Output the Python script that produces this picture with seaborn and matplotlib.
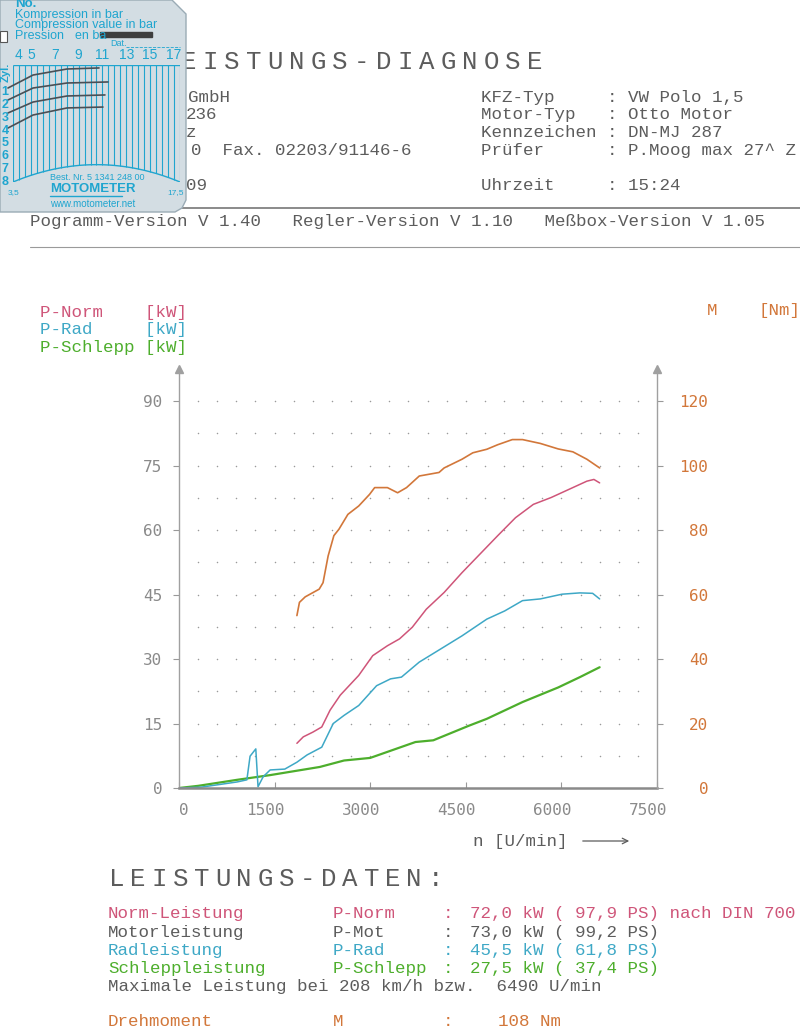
import numpy as np
import pandas as pd
import seaborn as sns
import matplotlib.pyplot as plt
from matplotlib.patches import Polygon, Rectangle
from matplotlib.transforms import ScaledTranslation

norm_rpm = [1850, 1950, 2100, 2240, 2370, 2530, 2820, 3040, 3270, 3460, 3660, 3880,
            4160, 4440, 4720, 5000, 5280, 5560, 5840, 6120, 6400, 6510, 6600]
norm_kw = [10.4, 11.9, 13.0, 14.2, 18.1, 21.6, 26.2, 30.8, 33.1, 34.7, 37.4, 41.6,
           45.5, 50.1, 54.4, 58.7, 62.9, 66.0, 67.6, 69.5, 71.4, 71.8, 71.0]

rad_rpm = [0, 350, 910, 1065, 1115, 1205, 1240, 1320, 1430, 1660, 1850, 2010, 2240,
           2420, 2590, 2820, 3100, 3320, 3490, 3770, 4100, 4440, 4830, 5110, 5390,
           5670, 6010, 6290, 6490, 6600]
rad_kw = [0, 0.2, 1.4, 1.9, 7.4, 9.1, 0.3, 2.6, 4.2, 4.4, 6.0, 7.7, 9.5,
          15.0, 16.9, 19.2, 23.8, 25.4, 25.8, 29.3, 32.3, 35.4, 39.3, 41.2, 43.6,
          44.0, 45.1, 45.4, 45.3, 44.0]

schlepp_rpm = [0, 300, 910, 1430, 2210, 2590, 3000, 3710, 3990, 4550, 4830, 5390,
               5950, 6290, 6600]
schlepp_kw = [0, 0.5, 1.9, 3.0, 4.9, 6.4, 7.0, 10.7, 11.1, 14.5, 16.1, 20.0,
              23.4, 25.8, 28.1]

m_rpm = [1850, 1890, 1980, 2200, 2260, 2340, 2430, 2510, 2650, 2820, 2990, 3070,
         3270, 3430, 3570, 3770, 4080, 4160, 4440, 4610, 4830, 5000, 5230, 5390,
         5670, 5950, 6180, 6400, 6600]
m_nm = [53.5, 57.6, 59.3, 61.7, 63.7, 72.0, 78.3, 80.3, 84.9, 87.5, 91.1, 93.2,
        93.2, 91.6, 93.2, 96.8, 97.9, 99.3, 102.0, 104.0, 105.1, 106.5, 108.1, 108.1,
        106.9, 105.2, 104.3, 102.0, 99.3]

x_ticks = [0, 1500, 3000, 4500, 6000, 7500]
kw_ticks = [0, 15, 30, 45, 60, 75, 90]
nm_ticks = [0, 20, 40, 60, 80, 100, 120]

# Kompressions-Karte (Motometer) - Spuren der Zylinder
cyl_bar = [[3.08, 5.18, 8.03, 10.71],
           [3.08, 5.18, 8.03, 11.46],
           [3.08, 5.18, 8.03, 11.21],
           [3.08, 5.18, 8.03, 11.04]]
cyl_row = [[0.69, -0.32, -0.79, -0.87],
           [1.62, 0.69, 0.30, 0.22],
           [2.63, 1.78, 1.31, 1.23],
           [3.80, 2.79, 2.24, 2.17]]
card_labels = [4, 5, 7, 9, 11, 13, 15, 17]

PINK = '#cf5579'
BLUE = '#3ea8c6'
GREEN = '#4dae2c'
ORANGE = '#d2773a'
GREY = '#5c5c5c'
CYAN = '#1fa5cf'

sns.set_style('white')
plt.rcParams['font.family'] = ['Liberation Mono', 'DejaVu Sans']

fig = plt.figure(figsize=(8, 10.28), dpi=100)

# Hintergrund in Pixel-Koordinaten fuer Texte
bg = fig.add_axes([0, 0, 1, 1])
bg.set_xlim(0, 800)
bg.set_ylim(1028, 0)
bg.axis('off')
bg.set_zorder(0)

fs = 12.6
BL = 5  # Abstand Zeilenmitte -> Grundlinie


def line(x, y, s, c=GREY, **kw):
    bg.text(x, y + BL, s, fontsize=fs, color=c, va='baseline', **kw)


# "L" liegt unter der Karte
for i, ch in enumerate('EISTUNGS-DIAGNOSE'):
    bg.text(189 + i * 21.6, 62, ch, ha='center', va='center', fontsize=18.5,
            color=GREY, zorder=2)

for y, s, x0 in [(97, 'GmbH', 188), (114, '236', 186), (132, 'z', 186),
                 (150, '0  Fax. 02203/91146-6', 191), (185, '09', 186)]:
    line(x0, y, s, zorder=2)

head = ['KFZ-Typ     : VW Polo 1,5',
        'Motor-Typ   : Otto Motor',
        'Kennzeichen : DN-MJ 287',
        'Prüfer      : P.Moog max 27^ Z',
        'Uhrzeit     : 15:24']
for y, s in zip([97, 114, 132, 150, 185], head):
    line(481, y, s, zorder=2)

bg.plot([0, 800], [208, 208], color='#777777', lw=1.2, zorder=1)
line(30, 221, 'Pogramm-Version V 1.40   Regler-Version V 1.10   Meßbox-Version V 1.05', zorder=2)
bg.plot([30, 800], [247, 247], color='#9a9a9a', lw=0.8, zorder=1)

# Legende
line(40, 312, 'P-Norm    [kW]', PINK)
line(40, 329, 'P-Rad     [kW]', BLUE)
line(40, 347, 'P-Schlepp [kW]', GREEN)
line(707, 310, 'M', ORANGE)
line(758, 310, '[Nm]', ORANGE)

line(473, 841, 'n [U/min]')
bg.annotate('', xy=(632, 841), xytext=(580, 841),
            arrowprops=dict(arrowstyle='->', color=GREY, lw=0.9))

# Leistungsdaten
for i, ch in enumerate('LEISTUNGS-DATEN:'):
    bg.text(117 + i * 21.2, 879, ch, ha='center', va='center', fontsize=18.5,
            color=GREY)

rows = [(913, PINK, 'Norm-Leistung', 'P-Norm', '72,0 kW ( 97,9 PS) nach DIN 700'),
        (932, GREY, 'Motorleistung', 'P-Mot', '73,0 kW ( 99,2 PS)'),
        (950, BLUE, 'Radleistung', 'P-Rad', '45,5 kW ( 61,8 PS)'),
        (968, GREEN, 'Schleppleistung', 'P-Schlepp', '27,5 kW ( 37,4 PS)')]
for y, c, a, b, v in rows:
    line(108, y, a, c)
    line(333, y, b, c)
    line(443, y, ':', c)
    line(470, y, v, c)
line(108, 986, 'Maximale Leistung bei 208 km/h bzw.  6490 U/min')
line(108, 1021, 'Drehmoment', ORANGE)
line(333, 1021, 'M', ORANGE)
line(443, 1021, ':', ORANGE)
line(498, 1021, '108 Nm', ORANGE)

# Motometer-Karte
card = Polygon([(0, 0), (172, 0), (186, 14), (186, 200), (182, 208), (175, 212), (0, 212)],
               closed=True, facecolor='#d3dde3', edgecolor='#9aabb5', lw=1, zorder=3)
bg.add_patch(card)
bg.add_patch(Rectangle((100, 32), 52, 5, color='#3e3e3e', zorder=4))
bg.add_patch(Rectangle((0, 31), 7, 11, facecolor='white', edgecolor='#555', lw=0.8, zorder=4))
ct = dict(family='Liberation Sans', color=CYAN, va='center', zorder=5)
bg.text(15, 4, 'No.', fontsize=9.5, weight='bold', **ct)
bg.text(15, 15, 'Kompression in bar', fontsize=9, **ct)
bg.text(15, 25, 'Compression value in bar', fontsize=9, **ct)
bg.text(15, 36, 'Pression', fontsize=9, **ct)
bg.text(75, 36, 'en ba', fontsize=9, **ct)
bg.text(110, 43, 'Dat.', fontsize=6.5, **ct)
bg.plot([126, 180], [47, 47], ls='--', color=CYAN, lw=0.6, zorder=5)
bg.text(50, 178, 'Best. Nr. 5 1341 248 00', fontsize=6.5, **ct)
bg.text(50, 189, 'MOTOMETER', fontsize=9.5, weight='bold', **ct)
bg.plot([50, 122], [196, 196], color=CYAN, lw=1, zorder=5)
bg.text(50, 204, 'www.motometer.net', fontsize=7, **ct)
bg.text(8, 193, '3,5', fontsize=6, **ct)
bg.text(167, 193, '17,5', fontsize=6, **ct)

cax = fig.add_axes([13 / 800, 1 - 182 / 1028, 167 / 800, 117 / 1028])
cax.set_zorder(6)
cax.patch.set_alpha(0)
cax.axis('off')
cax.set_xlim(3.5, 17.5)
cax.set_ylim(8, -1.1)
bars = np.arange(3.5, 17.51, 0.5)
arc = 8 - 1.35 * (1 - ((bars - 10.5) / 7) ** 2)
cax.vlines(bars, -1.1, arc, color=CYAN, lw=0.8)
cax.plot(bars, arc, color=CYAN, lw=1)
cax.hlines(-1.1, 3.5, 17.5, color=CYAN, lw=1)
for b in card_labels:
    cax.text(b, -1.85, str(b), ha='center', va='center', fontsize=10,
             family='Liberation Sans', color=CYAN)
for r in range(1, 9):
    cax.text(2.85, r, str(r), ha='center', va='center', fontsize=9,
             family='Liberation Sans', weight='bold', color=CYAN)
cax.text(2.85, -0.5, 'Zyl.', rotation=90, ha='center', va='center', fontsize=8,
         family='Liberation Sans', weight='bold', color=CYAN)
for bx, ry in zip(cyl_bar, cyl_row):
    cax.plot(bx, ry, color='#4a4f55', lw=1.2, clip_on=False)

# Diagramm
ax = fig.add_axes([179 / 800, 240 / 1028, 478 / 800, 419 / 1028])
ax.set_zorder(2)
ax.patch.set_alpha(0)
ax.set_xlim(0, 7500)
ax.set_ylim(0, 97.5)

gx, gy = np.meshgrid(np.arange(300, 7201, 300), np.arange(7.5, 90.1, 7.5))
ax.scatter(gx.ravel(), gy.ravel(), s=1.2, color='#9a9a9a', linewidths=0)

df_norm = pd.DataFrame({'n': norm_rpm, 'P': norm_kw})
df_rad = pd.DataFrame({'n': rad_rpm, 'P': rad_kw})
df_schlepp = pd.DataFrame({'n': schlepp_rpm, 'P': schlepp_kw})
sns.lineplot(data=df_schlepp, x='n', y='P', ax=ax, color=GREEN, lw=1.6, estimator=None, sort=False)
sns.lineplot(data=df_rad, x='n', y='P', ax=ax, color=BLUE, lw=1.1, estimator=None, sort=False)
sns.lineplot(data=df_norm, x='n', y='P', ax=ax, color=PINK, lw=1.1, estimator=None, sort=False)

ax.set_xlabel('')
ax.set_ylabel('')
ax.set_xticks(x_ticks)
ax.set_yticks(kw_ticks)
ax.tick_params(axis='y', direction='out', length=4, width=0.8, color='#999999',
               pad=8, labelsize=11.5, labelcolor='#8a8a8a', left=True)
ax.tick_params(axis='x', direction='in', length=4, width=0.8, color='#999999',
               pad=11, labelsize=11.5, labelcolor='#8a8a8a', bottom=True)
for lab in ax.get_xticklabels():
    lab.set_ha('right')
    lab.set_transform(lab.get_transform() + ScaledTranslation(0.10, 0, fig.dpi_scale_trans))
for lab in ax.get_xticklabels() + ax.get_yticklabels():
    lab.set_family('DejaVu Sans Mono')
for s in ['top', 'right']:
    ax.spines[s].set_visible(False)
ax.spines['left'].set_color('#a0a0a0')
ax.spines['left'].set_linewidth(1)
ax.spines['bottom'].set_color('#8a8a8a')
ax.spines['bottom'].set_linewidth(1.8)
ax.plot(0, 1, marker='^', ms=6, color='#a0a0a0', transform=ax.transAxes, clip_on=False)
ax.plot(1, 1, marker='^', ms=6, color='#a0a0a0', transform=ax.transAxes, clip_on=False)

ax2 = ax.twinx()
ax2.set_ylim(0, 130)
df_m = pd.DataFrame({'n': m_rpm, 'M': m_nm})
sns.lineplot(data=df_m, x='n', y='M', ax=ax2, color=ORANGE, lw=1.2, estimator=None, sort=False)
ax2.set_ylabel('')
ax2.set_yticks(nm_ticks)
ax2.tick_params(axis='y', direction='out', length=4, width=0.8, color='#999999',
                pad=33, labelsize=11.5, labelcolor=ORANGE, right=True)
for lab in ax2.get_yticklabels():
    lab.set_ha('right')
    lab.set_family('DejaVu Sans Mono')
for s in ['top', 'left', 'bottom']:
    ax2.spines[s].set_visible(False)
ax2.spines['right'].set_color('#a0a0a0')
ax2.spines['right'].set_linewidth(1)

fig.savefig('out.png', dpi=100, facecolor='white')
